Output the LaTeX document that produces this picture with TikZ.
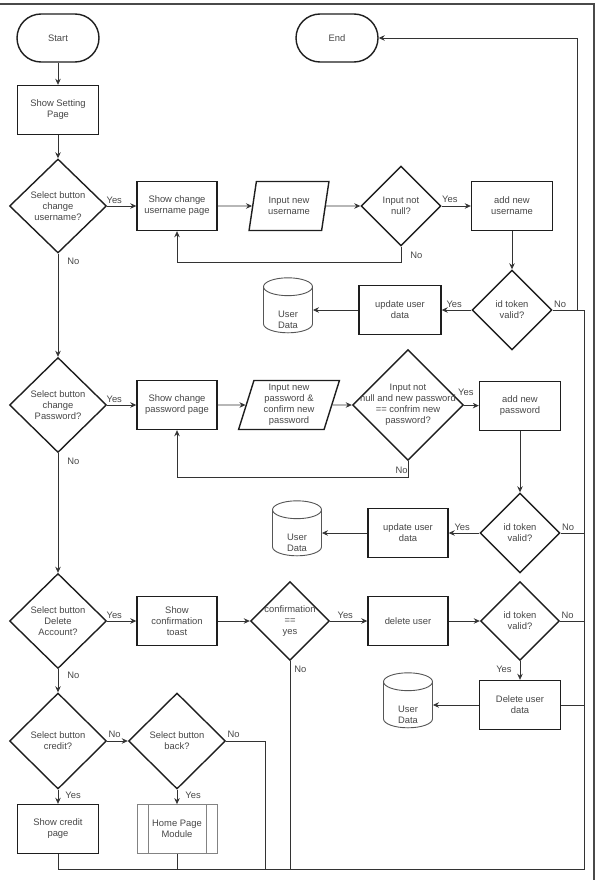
\documentclass[tikz,border=0pt]{standalone}
\usepackage{fontspec}
\setmainfont{Liberation Sans}
\usepackage{tikz}
\usetikzlibrary{arrows.meta,positioning,calc,shapes.geometric}
\definecolor{Ink}{HTML}{1E1E1E}
\definecolor{Wire}{HTML}{333333}
\definecolor{Lbl}{HTML}{474747}
\definecolor{Frame}{HTML}{4A4A4A}
\tikzset{
  chartfont/.style={font=\fontsize{9.4}{11}\selectfont, text=Lbl},
  procbox/.style={chartfont, draw=Ink, line width=1.4pt, fill=white,
    minimum width=80pt, minimum height=49pt, inner sep=0pt, align=center},
  termbox/.style={procbox, rounded corners=24pt, minimum width=82pt, minimum height=48pt},
  decbox/.style={chartfont, diamond, aspect=1, draw=Ink, line width=1.4pt, fill=white,
    inner sep=-8pt, minimum width=#1, minimum height=#1, align=center},
  decbox/.default={80pt},
  iobox/.style={chartfont, trapezium, trapezium left angle=75, trapezium right angle=105,
    trapezium stretches=true, draw=Ink, line width=1.4pt, fill=white,
    minimum width=#1, minimum height=49pt, inner sep=0pt, align=center},
  dbstore/.style={chartfont, cylinder, shape border rotate=90, shape aspect=0.9,
    draw=Ink!75, line width=0.9pt, fill=white, minimum width=49pt, minimum height=55pt,
    inner sep=0pt, align=center, label={[chartfont, align=center, yshift=-10pt]center:#1}},
  modbox/.style={procbox, draw=Ink!55, line width=0.8pt,
    path picture={
      \draw[Ink!55, line width=0.8pt]
        ([xshift=11pt]path picture bounding box.north west) -- ([xshift=11pt]path picture bounding box.south west)
        ([xshift=-11pt]path picture bounding box.north east) -- ([xshift=-11pt]path picture bounding box.south east);}},
  yesno/.style={chartfont, inner sep=1pt},
  flowline/.style={draw=Wire, line width=0.8pt},
  flowarr/.style={flowline, -{Stealth[length=6pt,width=5.5pt]}},
  edgeframe/.style={draw=Frame, line width=1.6pt},
}
\newcommand{\dbroom}{\phantom{User}\\\phantom{Data}}
\begin{document}
\begin{tikzpicture}[x=1pt, y=-1pt]
  \useasboundingbox (0,0) rectangle (595,880);
  \draw[edgeframe] (0,4) -- (594,4) -- (594,880);

  % change username
  \node[termbox] (start) at (58,38) {Start};
  \node[termbox] (end) at (337,38) {End};
  \node[procbox, minimum width=81pt] (setting) at (58,110) {Show Setting\\Page};
  \node[decbox=97pt, minimum height=94pt] (selUser) at (58,206) {Select button\\change\\username?};
  \node[procbox] (showUser) at (177,206) {Show change\\username page};
  \node[iobox=80pt] (inUser) at (289,206) {Input new\\username};
  \node[decbox] (nullUser) at (401,206) {Input not\\null?};
  \node[procbox, minimum width=81pt] (addUser) at (512,206) {add new\\username};
  \node[decbox] (tokUser) at (512,310) {id token\\valid?};
  \node[procbox, minimum width=82pt] (updUser) at (400,310) {update user\\data};
  \node[dbstore={User\\Data}] (dbUser) at (288,310) {\dbroom};

  % change password
  \node[decbox=97pt, minimum height=95pt] (selPass) at (58,405) {Select button\\change\\Password?};
  \node[procbox] (showPass) at (177,405) {Show change\\password page};
  \node[iobox=101pt] (inPass) at (289,405) {Input new\\password \&\\confirm new\\password};
  \node[decbox=111pt, inner sep=-14pt] (nullPass) at (408,405) {Input not\\null and new password\\== confrim new\\password?};
  \node[procbox, minimum width=81pt] (addPass) at (520,406) {add new\\password};
  \node[decbox] (tokPass) at (520,533) {id token\\valid?};
  \node[procbox] (updPass) at (408,533) {update user\\data};
  \node[dbstore={User\\Data}] (dbPass) at (297,533) {\dbroom};

  % delete account
  \node[decbox=97pt, minimum height=95pt] (selDel) at (58,621) {Select button\\Delete\\Account?};
  \node[procbox] (toast) at (177,621) {Show\\confirmation\\toast};
  \node[decbox=79pt] (confDel) at (290,621) {confirmation\\==\\yes};
  \node[procbox] (delUser) at (408,621) {delete user};
  \node[decbox=79pt] (tokDel) at (520,621) {id token\\valid?};
  \node[procbox, minimum width=81pt] (delData) at (520,705) {Delete user\\data};
  \node[dbstore={User\\Data}] (dbDel) at (408,705) {\dbroom};

  % credit / back
  \node[decbox=97pt, minimum height=96pt] (selCredit) at (58,741) {Select button\\credit?};
  \node[decbox=97pt, minimum height=96pt] (selBack) at (177,741) {Select button\\back?};
  \node[procbox, minimum width=81pt] (credit) at (58,829) {Show credit\\page};
  \node[modbox] (home) at (177,829) {Home Page\\Module};

  \coordinate (busSE) at (584,869);
  \coordinate (busNE) at (584,310);
  \coordinate (endRise) at (577,310);
  \coordinate (backNo) at (265,741);

  \draw[flowarr] (start) -- (setting);
  \draw[flowarr] (setting) -- (selUser);
  \draw[flowarr] (selUser) -- node[yesno, pos=0, anchor=south west, xshift=-2pt, yshift=1pt] {Yes} (showUser);
  \draw[flowarr] (showUser) -- (inUser);
  \draw[flowarr] (inUser) -- (nullUser);
  \draw[flowarr] (nullUser) -- node[yesno, pos=0, anchor=south west, xshift=-1pt, yshift=2pt] {Yes} (addUser);
  \draw[flowarr] (nullUser.south) -- node[yesno, pos=0.55, anchor=west, xshift=8pt] {No} ++(0,16) -| (showUser.south);
  \draw[flowarr] (addUser) -- (tokUser);
  \draw[flowarr] (tokUser) -- node[yesno, pos=0, anchor=south east, xshift=-8pt, yshift=1pt] {Yes} (updUser);
  \draw[flowarr] (updUser) -- (dbUser);
  \draw[flowarr] (selUser) -- node[yesno, pos=0, anchor=north west, xshift=8pt, yshift=-3pt] {No} (selPass);

  \draw[flowarr] (selPass) -- node[yesno, pos=0, anchor=south west, xshift=-2pt, yshift=1pt] {Yes} (showPass);
  \draw[flowarr] (showPass) -- (inPass);
  \draw[flowarr] (inPass) -- (nullPass);
  \draw[flowarr] (nullPass) -- node[yesno, pos=0, anchor=south west, xshift=-7pt, yshift=9pt] {Yes} (addPass);
  \draw[flowarr] (nullPass.south) -- node[yesno, pos=0.55, anchor=east, xshift=1pt] {No} ++(0,16) -| (showPass.south);
  \draw[flowarr] (addPass) -- (tokPass);
  \draw[flowarr] (tokPass) -- node[yesno, pos=0, anchor=south east, xshift=-8pt, yshift=1pt] {Yes} (updPass);
  \draw[flowarr] (updPass) -- (dbPass);
  \draw[flowarr] (selPass) -- node[yesno, pos=0, anchor=north west, xshift=8pt, yshift=-3pt] {No} (selDel);

  \draw[flowarr] (selDel) -- node[yesno, pos=0, anchor=south west, xshift=-2pt, yshift=1pt] {Yes} (toast);
  \draw[flowarr] (toast) -- (confDel);
  \draw[flowarr] (confDel) -- node[yesno, pos=0, anchor=south west, xshift=6pt, yshift=1pt] {Yes} (delUser);
  \draw[flowarr] (delUser) -- (tokDel);
  \draw[flowarr] (tokDel) -- node[yesno, pos=0, anchor=north east, xshift=-7pt, yshift=-3pt] {Yes} (delData);
  \draw[flowarr] (delData) -- (dbDel);
  \draw[flowarr] (selDel) -- node[yesno, pos=0, anchor=north west, xshift=8pt, yshift=-1pt] {No} (selCredit);

  \draw[flowarr] (selCredit) -- node[yesno, pos=0, anchor=south west, yshift=2pt] {No} (selBack);
  \draw[flowarr] (selCredit) -- node[yesno, pos=0, anchor=north west, xshift=6pt, yshift=-1pt] {Yes} (credit);
  \draw[flowarr] (selBack) -- node[yesno, pos=0, anchor=north west, xshift=7pt, yshift=-1pt] {Yes} (home);

  % way back to End
  \draw[flowline] (tokUser) -- node[yesno, pos=0, anchor=south west, yshift=1pt] {No} (busNE);
  \draw[flowline] (tokPass) -- node[yesno, pos=0, anchor=south west, yshift=1pt] {No} (tokPass -| busNE);
  \draw[flowline] (tokDel) -- node[yesno, pos=0, anchor=south west, yshift=1pt] {No} (tokDel -| busNE);
  \draw[flowline] (delData) -- (delData -| busNE);
  \draw[flowline] (confDel) -- node[yesno, pos=0, anchor=north west, xshift=3pt, yshift=-3pt] {No} (confDel |- busSE);
  \draw[flowline] (selBack) -- node[yesno, pos=0, anchor=south west, yshift=2pt] {No} (backNo) -- (backNo |- busSE);
  \draw[flowline] (home) -- (home |- busSE);
  \draw[flowline] (credit) |- (busSE) -- (busNE);
  \draw[flowarr] (endRise) |- (end);
\end{tikzpicture}
\end{document}
